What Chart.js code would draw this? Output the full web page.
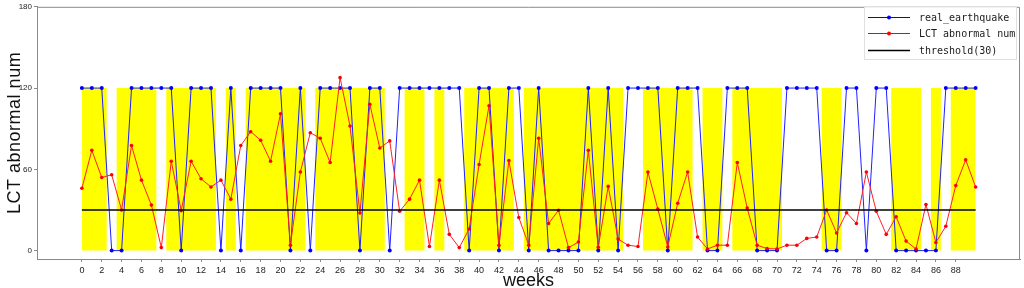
<!DOCTYPE html>
<html>
<head>
<meta charset="utf-8">
<script src="https://cdn.jsdelivr.net/npm/chart.js@4.4.1/dist/chart.umd.min.js"></script>
<style>
html,body{margin:0;padding:0;background:#fff;}
#c{display:block;}
</style>
</head>
<body>
<canvas id="c" width="1024" height="288"></canvas>
<script>
const weeks = [0,1,2,3,4,5,6,7,8,9,10,11,12,13,14,15,16,17,18,19,20,21,22,23,24,25,26,27,28,29,30,31,32,33,34,35,36,37,38,39,40,41,42,43,44,45,46,47,48,49,50,51,52,53,54,55,56,57,58,59,60,61,62,63,64,65,66,67,68,69,70,71,72,73,74,75,76,77,78,79,80,81,82,83,84,85,86,87,88,89,90];
const realEarthquake = [120,120,120,0,0,120,120,120,120,120,0,120,120,120,0,120,0,120,120,120,120,0,120,0,120,120,120,120,0,120,120,0,120,120,120,120,120,120,120,0,120,120,0,120,120,0,120,0,0,0,0,120,0,120,0,120,120,120,120,0,120,120,120,0,0,120,120,120,0,0,0,120,120,120,120,0,0,120,120,0,120,120,0,0,0,0,0,120,120,120,120];
const lctAbnormal = [46,74,54,56,30,77.6,52,33.6,2.2,66,29.5,66,53,47,52,38,77.6,87.8,81.5,66,101,4,58,87,83,65,127.7,92,27.8,108,75.7,81,29,38,52,3,52,12,2.2,16,63.6,107,4,66.5,24.4,4,83,20,29.8,2.2,6.3,74,2.4,47.4,8.5,4,3,58,30.7,2.7,35,58,10,1.2,4,4,65,31.4,4,1.5,1.2,4,4,9,10,30,13,28,20,58,29,12,25,7,1.2,34,6,18,48,67,47];
const highlight = [120,120,120,0,120,120,120,120,0,120,120,120,120,120,0,120,0,120,120,120,120,120,120,0,120,120,120,120,120,120,120,0,0,120,120,0,120,0,0,120,120,120,120,120,0,120,120,120,120,120,120,120,120,120,120,0,0,120,120,120,120,120,0,120,120,0,120,120,120,120,120,0,0,0,0,120,120,0,0,0,0,0,120,120,120,0,120,0,120,120,120];
const threshold = 30;
const xTickLabels = [0,2,4,6,8,10,12,14,16,18,20,22,24,26,28,30,32,34,36,38,40,42,44,46,48,50,52,54,56,58,60,62,64,66,68,70,72,74,76,78,80,82,84,86,88];
const yTickLabels = [0,60,120,180];
const legendLabels = ['real_earthquake','LCT abnormal num','threshold(30)'];

const toXY = arr => weeks.map((w,i)=>({x:w,y:arr[i]}));

const framePlugin = {
  id:'frame',
  afterDraw(chart){
    const {ctx, chartArea:a} = chart;
    ctx.save();
    ctx.strokeStyle='#8a8a8a';
    ctx.lineWidth=1;
    ctx.beginPath();
    ctx.moveTo(a.left, a.top+0.5); ctx.lineTo(a.right-0.5, a.top+0.5); ctx.lineTo(a.right-0.5, a.bottom);
    ctx.stroke();
    // axis titles
    ctx.fillStyle='#111';
    ctx.font='18px "Liberation Sans", Arial, sans-serif';
    ctx.textAlign='center'; ctx.textBaseline='middle';
    ctx.fillText('weeks', (a.left+a.right)/2, 281);
    ctx.translate(15, (a.top+a.bottom)/2);
    ctx.rotate(-Math.PI/2);
    try { ctx.letterSpacing = '0.5px'; } catch(e) {}
    ctx.fillText('LCT abnormal num', 0, 0);
    ctx.restore();
    // legend
    ctx.save();
    const bx=864, by=6, bw=152, bh=53;
    ctx.fillStyle='rgba(255,255,255,0.85)';
    ctx.fillRect(bx,by,bw,bh);
    ctx.strokeStyle='#e0e0e0';
    ctx.strokeRect(bx+0.5,by+0.5,bw,bh);
    const rows=[17,33,50];
    const cols=['#0000ff','#ff0000','#000000'];
    ctx.font='10px "DejaVu Sans Mono", monospace';
    ctx.textAlign='left'; ctx.textBaseline='middle';
    rows.forEach((y,i)=>{
      ctx.strokeStyle=cols[i]; ctx.lineWidth = i===2?1.5:1;
      ctx.beginPath(); ctx.moveTo(868,y+0.5); ctx.lineTo(910,y+0.5); ctx.stroke();
      if(i<2){ctx.fillStyle=cols[i]; ctx.beginPath(); ctx.arc(889,y+0.5,2,0,Math.PI*2); ctx.fill();}
      ctx.fillStyle='#1a1a1a';
      ctx.fillText(legendLabels[i], 919, y+1);
    });
    ctx.restore();
  }
};

new Chart(document.getElementById('c'), {
  type:'line',
  data:{
    datasets:[
      {label:'highlight', data:toXY(highlight), stepped:'middle', fill:'origin', backgroundColor:'#ffff00', borderColor:'rgba(0,0,0,0)', borderWidth:0, pointRadius:0, order:4},
      {label:legendLabels[0], data:toXY(realEarthquake), borderColor:'#2020ff', backgroundColor:'#0000ff', borderWidth:1, pointRadius:2, pointBorderWidth:0, tension:0, order:3},
      {label:legendLabels[1], data:toXY(lctAbnormal), borderColor:'#ff2020', backgroundColor:'#ff0000', borderWidth:1, pointRadius:1.8, pointBorderWidth:0, tension:0, order:2},
      {label:legendLabels[2], data:[{x:weeks[0],y:threshold},{x:weeks[weeks.length-1],y:threshold}], borderColor:'#000', borderWidth:1.5, pointRadius:0, order:1}
    ]
  },
  options:{
    responsive:false, animation:false,
    layout:{padding:{top:4,right:2,left:0,bottom:0}},
    plugins:{legend:{display:false}, tooltip:{enabled:false}},
    scales:{
      x:{type:'linear', min:-4.52, max:94.47,
        afterBuildTicks(s){ s.ticks = xTickLabels.map(v=>({value:v})); },
        afterFit(s){ s.height = 29; },
        grid:{display:true, drawOnChartArea:false, tickLength:3, color:'#8a8a8a'},
        border:{display:true, color:'#8a8a8a', width:1},
        ticks:{font:{size:9, family:'"Liberation Sans Narrow", "Liberation Sans", Arial'}, color:'#222', padding:3, maxRotation:0, autoSkip:false}
      },
      y:{type:'linear', min:-6.2, max:180,
        afterBuildTicks(s){ s.ticks = yTickLabels.map(v=>({value:v})); },
        afterFit(s){ s.width = 37; },
        grid:{display:true, drawOnChartArea:false, tickLength:3, color:'#8a8a8a'},
        border:{display:true, color:'#8a8a8a', width:1},
        ticks:{font:{size:8, family:'"Liberation Sans Narrow", "Liberation Sans", Arial'}, color:'#222', padding:2}
      }
    }
  },
  plugins:[framePlugin]
});
</script>
</body>
</html>
